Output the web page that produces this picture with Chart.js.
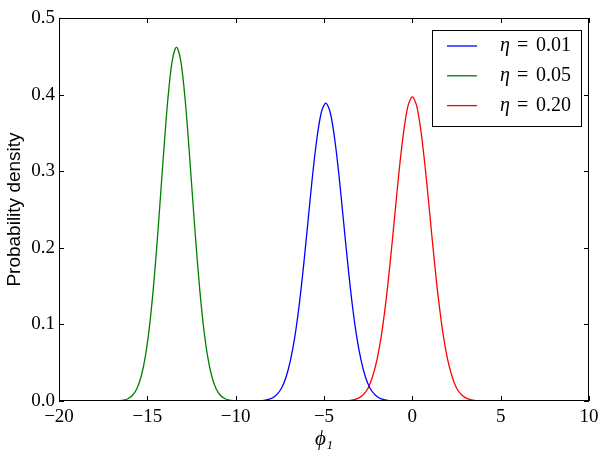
<!DOCTYPE html>
<html>
<head>
<meta charset="utf-8">
<script src="https://cdn.jsdelivr.net/npm/chart.js@4/dist/chart.umd.min.js"></script>
<style>
  html, body { margin: 0; padding: 0; background: #fff; }
</style>
</head>
<body>
<canvas id="densityChart" width="608" height="456"></canvas>
<script>
// Valeurs (densités estimées)
var etaLabels = ['0.01', '0.05', '0.20'];
var couleurs = ['#0000ff', '#008000', '#ff0000'];

// eta = 0.01 (bleu)
var phiBleu = [-8.9, -8.65, -8.4, -8.15, -7.9, -7.65, -7.4, -7.15, -6.9, -6.65, -6.4, -6.15, -5.9, -5.65, -5.4, -5.15,
  -4.9, -4.65, -4.4, -4.15, -3.9, -3.65, -3.4, -3.15, -2.9, -2.65, -2.4, -2.15, -1.9, -1.65, -1.4, -1.15, -0.9];
var densBleu = [0.0001, 0.0004, 0.0009, 0.002, 0.0043, 0.0089, 0.017, 0.031, 0.053, 0.084, 0.126, 0.178, 0.236, 0.294, 0.343, 0.377,
  0.389, 0.377, 0.343, 0.294, 0.236, 0.178, 0.126, 0.084, 0.053, 0.031, 0.017, 0.0089, 0.0043, 0.002, 0.0009, 0.0004, 0.0001];

// eta = 0.05 (vert)
var phiVert = [-16.85, -16.6, -16.35, -16.1, -15.85, -15.6, -15.35, -15.1, -14.85, -14.6, -14.35, -14.1, -13.85, -13.6,
  -13.35, -13.1, -12.85, -12.6, -12.35, -12.1, -11.85, -11.6, -11.35, -11.1, -10.85, -10.6, -10.35, -10.1, -9.85];
var densVert = [0.0001, 0.0004, 0.0011, 0.003, 0.0071, 0.0157, 0.032, 0.060, 0.103, 0.163, 0.237, 0.317, 0.391, 0.443,
  0.462, 0.443, 0.391, 0.317, 0.237, 0.163, 0.103, 0.060, 0.032, 0.0157, 0.0071, 0.003, 0.0011, 0.0004, 0.0001];

// eta = 0.20 (rouge)
var phiRouge = [-4, -3.75, -3.5, -3.25, -3, -2.75, -2.5, -2.25, -2, -1.75, -1.5, -1.25, -1, -0.75, -0.5, -0.25,
  0, 0.25, 0.5, 0.75, 1, 1.25, 1.5, 1.75, 2, 2.25, 2.5, 2.75, 3, 3.25, 3.5, 3.75, 4];
var densRouge = [0.0001, 0.0004, 0.0009, 0.002, 0.0044, 0.009, 0.017, 0.032, 0.054, 0.086, 0.129, 0.182, 0.241, 0.300, 0.350, 0.385,
  0.397, 0.385, 0.350, 0.300, 0.241, 0.182, 0.129, 0.086, 0.054, 0.032, 0.017, 0.009, 0.0044, 0.002, 0.0009, 0.0004, 0.0001];

var xTicks = [-20, -15, -10, -5, 0, 5, 10];
var yTicks = [0.0, 0.1, 0.2, 0.3, 0.4, 0.5];

function points(xs, ys) {
  return xs.map(function(x, i) { return {x: x, y: ys[i]}; });
}

var serif = '"Liberation Serif", "DejaVu Serif", serif';

// Ticks vers l'intérieur sur les quatre côtés + cadre + légende
var cadrePlugin = {
  id: 'cadre',
  afterDraw: function(chart) {
    var ctx = chart.ctx;
    var a = chart.chartArea;
    var sx = chart.scales.x, sy = chart.scales.y;
    ctx.save();
    ctx.strokeStyle = '#000';
    ctx.lineWidth = 1;
    ctx.beginPath();
    xTicks.forEach(function(v) {
      var px = Math.round(sx.getPixelForValue(v)) + 0.5;
      ctx.moveTo(px, a.bottom); ctx.lineTo(px, a.bottom - 5);
      ctx.moveTo(px, a.top); ctx.lineTo(px, a.top + 5);
    });
    yTicks.forEach(function(v) {
      var py = Math.round(sy.getPixelForValue(v)) + 0.5;
      ctx.moveTo(a.left, py); ctx.lineTo(a.left + 5, py);
      ctx.moveTo(a.right, py); ctx.lineTo(a.right - 5, py);
    });
    ctx.stroke();
    ctx.strokeRect(Math.round(a.left) + 0.5, Math.round(a.top) + 0.5,
      Math.round(a.right - a.left) - 1, Math.round(a.bottom - a.top) - 1);

    // légende
    var lx = 432.5, ly = 30.5, lw = 149, lh = 96;
    ctx.fillStyle = '#fff';
    ctx.fillRect(lx, ly, lw, lh);
    ctx.strokeRect(lx, ly, lw, lh);
    chart.data.datasets.forEach(function(ds, i) {
      var y = 46 + i * 29.8;
      ctx.strokeStyle = ds.borderColor;
      ctx.lineWidth = 1.3;
      ctx.beginPath();
      ctx.moveTo(447, y); ctx.lineTo(477, y);
      ctx.stroke();
      ctx.fillStyle = '#000';
      ctx.textBaseline = 'middle';
      ctx.font = 'italic 20px ' + serif;
      ctx.fillText('η', 500, y);
      ctx.font = '20px ' + serif;
      ctx.fillText('=', 517, y);
      ctx.fillText(etaLabels[i], 536, y);
    });
    ctx.restore();
  }
};

var ctx = document.getElementById('densityChart').getContext('2d');
var densityChart = new Chart(ctx, {
  type: 'scatter',
  data: {
    datasets: [
      { label: 'η = 0.01', data: points(phiBleu, densBleu), borderColor: couleurs[0] },
      { label: 'η = 0.05', data: points(phiVert, densVert), borderColor: couleurs[1] },
      { label: 'η = 0.20', data: points(phiRouge, densRouge), borderColor: couleurs[2] }
    ].map(function(ds) {
      ds.showLine = true;
      ds.pointRadius = 0;
      ds.borderWidth = 1.3;
      ds.tension = 0.3;
      ds.fill = false;
      return ds;
    })
  },
  options: {
    responsive: false,
    animation: false,
    devicePixelRatio: 1,
    layout: { padding: { top: 18, right: 19, left: 0, bottom: 0 } },
    plugins: { legend: { display: false }, tooltip: { enabled: false } },
    scales: {
      x: {
        type: 'linear',
        min: -20, max: 10,
        afterFit: function(s) { s.height = 55; },
        afterBuildTicks: function(s) { s.ticks = xTicks.map(function(v) { return {value: v}; }); },
        grid: { display: false, drawTicks: false },
        border: { display: false },
        ticks: {
          padding: 5,
          color: '#000',
          font: { family: serif, size: 19 },
          callback: function(v) { return v < 0 ? '\u2212' + Math.abs(v) : String(v); }
        },
        title: {
          display: true,
          text: 'ϕ₁',
          color: '#000',
          padding: { top: 4, bottom: 4 },
          font: { family: serif, size: 21, style: 'italic' }
        }
      },
      y: {
        min: 0, max: 0.5,
        afterFit: function(s) { s.width = 59; },
        afterBuildTicks: function(s) { s.ticks = yTicks.map(function(v) { return {value: v}; }); },
        grid: { display: false, drawTicks: false },
        border: { display: false },
        ticks: {
          padding: 4,
          color: '#000',
          font: { family: serif, size: 19 },
          callback: function(v) { return v.toFixed(1); }
        },
        title: {
          display: true,
          text: 'Probability density',
          color: '#000',
          padding: { top: 3, bottom: 0 },
          font: { family: '"Liberation Sans", Arial, sans-serif', size: 19 }
        }
      }
    }
  },
  plugins: [cadrePlugin]
});
</script>
</body>
</html>
